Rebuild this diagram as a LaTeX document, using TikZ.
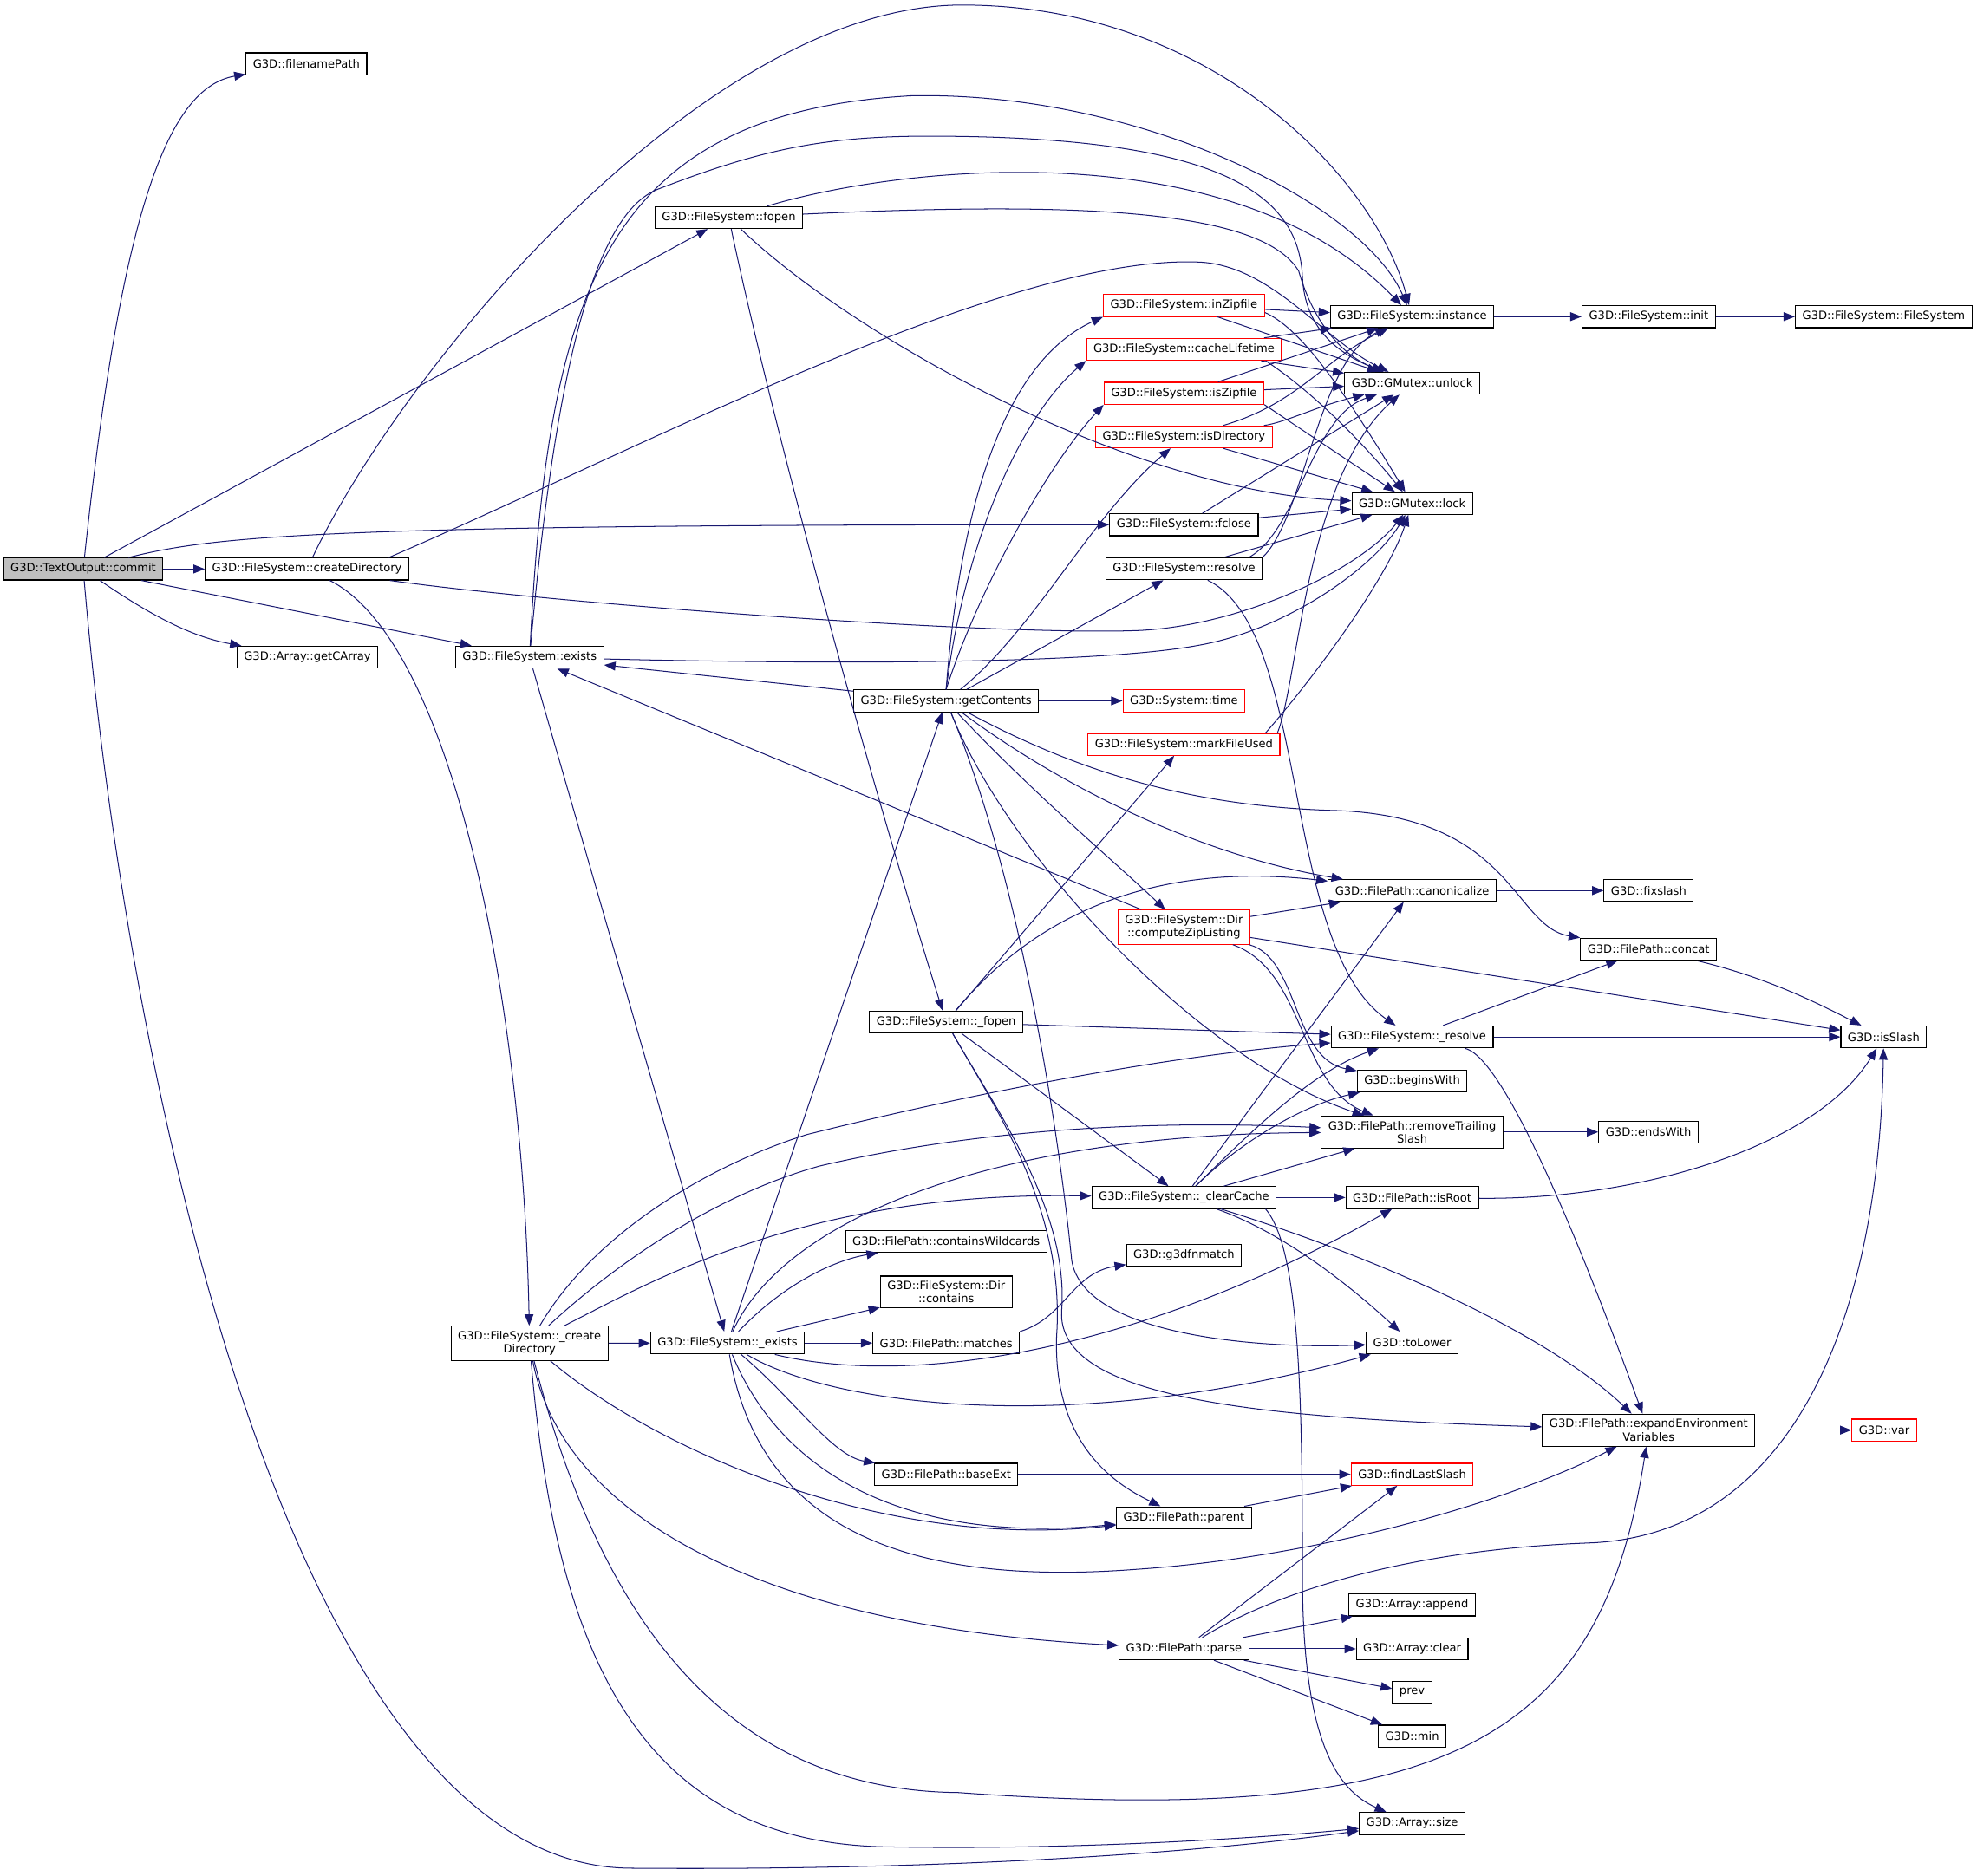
\documentclass[tikz,border=0pt]{standalone}
\usepackage{fontspec}
\setmainfont{DejaVu Sans}
\usetikzlibrary{arrows.meta,positioning}
\definecolor{callblue}{HTML}{191970}
\tikzstyle{fn} = [draw, rectangle, fill=white, line width=0.8pt, minimum height=17.4pt, inner xsep=5.5pt, inner ysep=4pt, align=center, font=\fontsize{9}{10.4}\selectfont]
\tikzstyle{fnred} = [fn, draw=red]
\tikzstyle{fnroot} = [fn, fill=black!25]
\tikzstyle{call} = [draw=callblue, line width=0.7pt, -{Triangle[length=9pt,width=7pt]}]

\begin{document}
\begin{tikzpicture}[x=1pt, y=-1pt]
    \useasboundingbox (0,0) rectangle (1568,1488);
    % callers
    \node [fnroot] (commit) at (66,451.4) {G3D::TextOutput::commit};
    \node [fn] (fnpath) at (243,50.7) {G3D::filenamePath};
    \node [fn] (cdir) at (243.5,451.4) {G3D::FileSystem::createDirectory};
    \node [fn] (carray) at (243.8,521.3) {G3D::Array::getCArray};
    \node [fn] (exists) at (420,521.3) {G3D::FileSystem::exists};
    \node [fn] (ucdir) at (420,1065.6) {G3D::FileSystem::\_create\\Directory};
    \node [fn] (fopen) at (578,172.6) {G3D::FileSystem::fopen};
    \node [fn] (uexists) at (577,1065.4) {G3D::FileSystem::\_exists};
    \node [fn] (getc) at (750.4,556) {G3D::FileSystem::getContents};
    \node [fn] (ufopen) at (750.4,810.8) {G3D::FileSystem::\_fopen};
    \node [fn] (wildc) at (750.4,984.8) {G3D::FilePath::containsWildcards};
    \node [fn] (dircont) at (750.5,1025) {G3D::FileSystem::Dir\\::contains};
    \node [fn, right of=uexists, node distance=173.4pt] (matches) {G3D::FilePath::matches};
    \node [fn] (baseext) at (750.5,1169.6) {G3D::FilePath::baseExt};
    \node [fnred] (inzip) at (939,242.3) {G3D::FileSystem::inZipfile};
    \node [fnred] (cachelt) at (939,277.1) {G3D::FileSystem::cacheLifetime};
    \node [fnred] (iszip) at (939,312) {G3D::FileSystem::isZipfile};
    \node [fnred] (isdir) at (939,346.6) {G3D::FileSystem::isDirectory};
    \node [fn] (fclose) at (939,416.3) {G3D::FileSystem::fclose};
    \node [fn] (resolve) at (939,451.2) {G3D::FileSystem::resolve};
    \node [fnred, right of=getc, node distance=188.6pt] (systime) {G3D::System::time};
    \node [fnred] (markused) at (939,590.5) {G3D::FileSystem::markFileUsed};
    \node [fnred] (zipls) at (939,735.5) {G3D::FileSystem::Dir\\::computeZipListing};
    \node [fn] (clrcache) at (939,950) {G3D::FileSystem::\_clearCache};
    \node [fn] (fnmatch) at (939,995.9) {G3D::g3dfnmatch};
    \node [fn] (parent) at (939,1204) {G3D::FilePath::parent};
    \node [fn] (parse) at (939,1308) {G3D::FilePath::parse};
    % callees
    \node [fn] (inst) at (1120,251.2) {G3D::FileSystem::instance};
    \node [fn] (unlock) at (1120,304) {G3D::GMutex::unlock};
    \node [fn] (lock) at (1120,399.3) {G3D::GMutex::lock};
    \node [fn] (canon) at (1120,706.5) {G3D::FilePath::canonicalize};
    \node [fn] (ures) at (1120,822.6) {G3D::FileSystem::\_resolve};
    \node [fn] (begw) at (1120,857.5) {G3D::beginsWith};
    \node [fn] (rmtrail) at (1120,898) {G3D::FilePath::removeTrailing\\Slash};
    \node [fn] (isroot) at (1120,950) {G3D::FilePath::isRoot};
    \node [fn] (tolower) at (1120,1065.4) {G3D::toLower};
    \node [fnred] (findls) at (1120,1169.6) {G3D::findLastSlash};
    \node [fn] (append) at (1120,1273.2) {G3D::Array::append};
    \node [fn] (clear) at (1120,1308) {G3D::Array::clear};
    \node [fn] (prev) at (1120,1342.6) {prev};
    \node [fn] (min) at (1120,1377.2) {G3D::min};
    \node [fn] (size) at (1120,1446.5) {G3D::Array::size};
    \node [fn, right of=inst, node distance=187.6pt] (init) {G3D::FileSystem::init};
    \node [fn, right of=canon, node distance=187.6pt] (fixsl) {G3D::fixslash};
    \node [fn] (concat) at (1307.4,753) {G3D::FilePath::concat};
    \node [fn, right of=rmtrail, node distance=187.4pt] (endw) {G3D::endsWith};
    \node [fn] (expenv) at (1307.6,1134.5) {G3D::FilePath::expandEnvironment\\Variables};
    \node [fn, right of=init, node distance=186.4pt] (fsys) {G3D::FileSystem::FileSystem};
    \node [fn] (isslash) at (1494,822.6) {G3D::isSlash};
    \node [fnred, right of=expenv, node distance=186.8pt] (var) {G3D::var};

    % commit
    \draw [call] (commit) .. controls (95,180) and (130,70) .. (fnpath);
    \draw [call] (commit) -- (cdir);
    \draw [call] (commit) -- (fopen);
    \draw [call] (commit) .. controls (170,425) and (260,416) .. (fclose);
    \draw [call] (commit) -- (exists);
    \draw [call] (commit) .. controls (115,485) and (150,505) .. (carray);
    \draw [call] (commit) .. controls (100,850) and (230,1480) .. (500,1482) .. controls (750,1484) and (950,1470) .. (size);
    % createDirectory, exists, fopen
    \draw [call] (cdir) .. controls (320,290) and (560,4) .. (763,4) .. controls (960,4) and (1090,140) .. (inst);
    \draw [call] (cdir.8) .. controls (500,360) and (800,200) .. (953,208) .. controls (1010,212) and (1050,270) .. (unlock);
    \draw [call] (cdir) .. controls (450,480) and (800,505) .. (906,500) .. controls (990,495) and (1080,450) .. (lock);
    \draw [call] (cdir) .. controls (360,510) and (415,800) .. (ucdir);
    \draw [call] (exists) .. controls (435,230) and (480,90) .. (722,76) .. controls (900,72) and (1080,160) .. (inst);
    \draw [call] (exists) .. controls (440,300) and (470,170) .. (522,150) .. controls (600,120) and (650,108) .. (736,108) .. controls (960,108) and (1030,150) .. (1033,220) .. controls (1035,260) and (1060,280) .. (unlock);
    \draw [call] (exists) .. controls (700,528) and (880,525) .. (950,512) .. controls (1020,500) and (1090,450) .. (lock);
    \draw [call] (exists) -- (uexists);
    \draw [call] (fopen) .. controls (720,130) and (980,105) .. (inst);
    \draw [call] (fopen) .. controls (850,160) and (1000,165) .. (1030,215) .. controls (1040,250) and (1060,280) .. (unlock);
    \draw [call] (fopen) .. controls (680,270) and (900,390) .. (lock);
    \draw [call] (fopen) .. controls (620,370) and (700,650) .. (ufopen);
    % mutex
    \draw [call] (inzip) -- (inst);
    \draw [call] (inzip) -- (unlock);
    \draw [call] (inzip.-5) .. controls (1030,260) and (1060,300) .. (lock);
    \draw [call] (cachelt) -- (inst);
    \draw [call] (cachelt) -- (unlock);
    \draw [call] (cachelt.-8) .. controls (1040,310) and (1080,350) .. (lock);
    \draw [call] (iszip) -- (inst);
    \draw [call] (iszip) -- (unlock);
    \draw [call] (iszip.-8) -- (lock);
    \draw [call] (isdir) .. controls (1030,320) and (1050,285) .. (inst);
    \draw [call] (isdir) .. controls (1020,335) and (1045,322) .. (unlock);
    \draw [call] (isdir) -- (lock);
    \draw [call] (fclose) -- (unlock);
    \draw [call] (fclose) -- (lock);
    \draw [call] (resolve.north east) .. controls (1035,410) and (1045,285) .. (inst);
    \draw [call] (resolve.10) .. controls (1030,420) and (1040,330) .. (unlock);
    \draw [call] (resolve) -- (lock);
    \draw [call] (resolve) .. controls (1040,500) and (1015,750) .. (ures);
    \draw [call] (markused.8) .. controls (1040,540) and (1100,460) .. (lock);
    \draw [call] (markused.7) .. controls (1030,540) and (1035,380) .. (unlock);
    % getContents
    \draw [call] (getc) -- (exists);
    \draw [call] (getc.north) .. controls (760,420) and (790,290) .. (inzip.south west);
    \draw [call] (getc.north) .. controls (765,430) and (810,330) .. (cachelt.south west);
    \draw [call] (getc.north) .. controls (775,470) and (830,370) .. (iszip.south west);
    \draw [call] (getc) .. controls (820,500) and (865,410) .. (isdir);
    \draw [call] (getc) -- (resolve);
    \draw [call] (getc) -- (systime);
    \draw [call] (getc) .. controls (820,630) and (880,680) .. (zipls);
    \draw [call] (getc) .. controls (850,630) and (960,680) .. (canon);
    \draw [call] (getc) .. controls (860,615) and (950,640) .. (1060,643) .. controls (1200,648) and (1200,735) .. (concat.north west);
    \draw [call] (getc) .. controls (800,680) and (950,840) .. (rmtrail);
    \draw [call] (getc) .. controls (810,700) and (840,900) .. (850,1000) .. controls (860,1060) and (1000,1070) .. (tolower);
    % _fopen
    \draw [call] (ufopen) -- (markused);
    \draw [call] (ufopen) .. controls (830,715) and (930,685) .. (canon);
    \draw [call] (ufopen) -- (ures);
    \draw [call] (ufopen) -- (clrcache);
    \draw [call] (ufopen) .. controls (790,880) and (845,960) .. (838,1060) .. controls (835,1150) and (890,1180) .. (parent);
    \draw [call] (ufopen) .. controls (790,880) and (848,960) .. (842,1040) .. controls (838,1110) and (1000,1125) .. (expenv);
    % computeZipListing
    \draw [call] (zipls) -- (exists);
    \draw [call] (zipls) -- (canon);
    \draw [call] (zipls) -- (isslash);
    \draw [call] (zipls) .. controls (1030,760) and (1025,840) .. (begw);
    \draw [call] (zipls) .. controls (1035,770) and (1030,860) .. (rmtrail);
    % _createDirectory
    \draw [call] (ucdir) -- (uexists);
    \draw [call] (ucdir) .. controls (470,980) and (560,925) .. (640,900) .. controls (800,860) and (950,835) .. (ures);
    \draw [call] (ucdir) .. controls (480,1010) and (560,950) .. (650,925) .. controls (800,890) and (950,890) .. (rmtrail);
    \draw [call] (ucdir) .. controls (520,1015) and (640,945) .. (clrcache);
    \draw [call] (ucdir) .. controls (520,1150) and (700,1230) .. (parent);
    \draw [call] (ucdir) .. controls (445,1200) and (600,1290) .. (parse);
    \draw [call] (ucdir) .. controls (470,1260) and (560,1420) .. (760,1422) .. controls (1150,1450) and (1270,1380) .. (expenv);
    \draw [call] (ucdir) .. controls (440,1300) and (500,1460) .. (700,1465) .. controls (850,1468) and (1000,1458) .. (size);
    % _exists
    \draw [call] (uexists) -- (getc);
    \draw [call] (uexists) .. controls (620,970) and (780,900) .. (rmtrail);
    \draw [call] (uexists) .. controls (620,1020) and (660,1000) .. (wildc);
    \draw [call] (uexists) -- (dircont);
    \draw [call] (uexists) -- (matches);
    \draw [call] (uexists) .. controls (720,1100) and (900,1075) .. (isroot);
    \draw [call] (uexists) .. controls (660,1115) and (850,1140) .. (tolower);
    \draw [call] (uexists) .. controls (630,1110) and (660,1155) .. (baseext);
    \draw [call] (uexists) .. controls (620,1170) and (720,1225) .. (parent);
    \draw [call] (uexists) .. controls (600,1200) and (700,1260) .. (900,1245) .. controls (1050,1235) and (1200,1190) .. (expenv);
    % _clearCache
    \draw [call] (clrcache) -- (canon);
    \draw [call] (clrcache) .. controls (990,900) and (1040,850) .. (ures);
    \draw [call] (clrcache) .. controls (990,900) and (1040,875) .. (begw);
    \draw [call] (clrcache) -- (rmtrail);
    \draw [call] (clrcache) -- (isroot);
    \draw [call] (clrcache) .. controls (1010,975) and (1060,1010) .. (tolower);
    \draw [call] (clrcache) .. controls (1100,1000) and (1230,1060) .. (expenv);
    \draw [call] (clrcache.-8) .. controls (1030,990) and (1033,1100) .. (1033,1250) .. controls (1033,1380) and (1060,1420) .. (size);
    % parse
    \draw [call] (parse) -- (findls);
    \draw [call] (parse) .. controls (1000,1270) and (1100,1230) .. (1260,1224) .. controls (1420,1218) and (1490,1050) .. (isslash);
    \draw [call] (parse) -- (append);
    \draw [call] (parse) -- (clear);
    \draw [call] (parse) -- (prev);
    \draw [call] (parse) -- (min);
    % the rest
    \draw [call] (baseext) -- (findls);
    \draw [call] (parent) -- (findls);
    \draw [call] (matches.north east) .. controls (845,1045) and (850,1010) .. (fnmatch);
    \draw [call] (ures) -- (concat);
    \draw [call] (ures) -- (isslash);
    \draw [call] (ures) .. controls (1200,840) and (1280,1060) .. (expenv);
    \draw [call] (canon) -- (fixsl);
    \draw [call] (concat) .. controls (1400,775) and (1440,795) .. (isslash);
    \draw [call] (rmtrail) -- (endw);
    \draw [call] (isroot) .. controls (1300,952) and (1440,910) .. (isslash);
    \draw [call] (expenv) -- (var);
    \draw [call] (inst) -- (init);
    \draw [call] (init) -- (fsys);
\end{tikzpicture}
\end{document}
